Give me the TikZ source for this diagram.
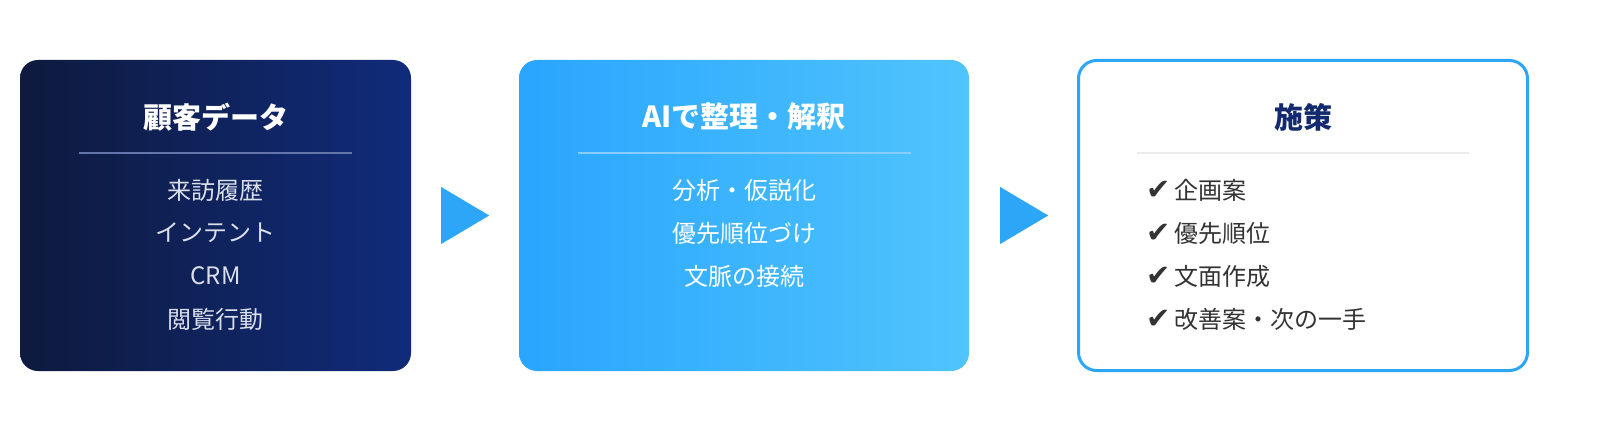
\documentclass[tikz,border=0pt]{standalone}
\usepackage{fontspec}
\setmainfont{Noto Sans CJK JP}
\newfontfamily\checkfont{DejaVu Sans}
\usetikzlibrary{positioning,calc}
\definecolor{navyL}{HTML}{0E1A3E}
\definecolor{navyR}{HTML}{102B7A}
\definecolor{skyL}{HTML}{29A5FE}
\definecolor{skyR}{HTML}{50C4FC}
\definecolor{accent}{HTML}{2DA6F7}
\definecolor{titlenavy}{HTML}{132A6E}
\begin{document}
\begin{tikzpicture}[x=1pt,y=1pt,
    box/.style={rounded corners=18pt,minimum height=311pt,inner sep=0pt},
    boxtitle/.style={font=\fontsize{29}{30}\selectfont\bfseries},
    boxitem/.style={font=\fontsize{24}{26}\selectfont}]
  \useasboundingbox (0,0) rectangle (1600,440);
  % the three stages
  \node[box,minimum width=391pt,left color=navyL,right color=navyR] (data) at (215.5,224.5) {};
  \node[box,minimum width=450pt,left color=skyL,right color=skyR] (ai) at (744,224.5) {};
  \node[box,minimum width=449pt,minimum height=310pt,draw=accent,line width=3pt,fill=white] (plan) at (1303,224.5) {};
  % titles and rules
  \node[boxtitle,text=white] (datat) at (215.5,323) {顧客データ};
  \node[boxtitle,text=white] (ait) at (744,323) {AIで整理・解釈};
  \node[boxtitle,text=titlenavy] (plant) at (1303,323) {施策};
  \draw[line width=1.5pt,color=white!35!navyR] (79,287) -- (352,287);
  \draw[line width=1.5pt,color=white!45!skyL] (578,287) -- (911,287);
  \draw[line width=1.5pt,color=black!8] (1137,287) -- (1469,287);
  % items
  \foreach \t [count=\i] in {来訪履歴,インテント,CRM,閲覧行動}
    \node[boxitem,text=white!85!navyR] (d\i) at (215.5,293-43*\i) {\t};
  \foreach \t [count=\i] in {分析・仮説化,優先順位づけ,文脈の接続}
    \node[boxitem,text=white] (a\i) at (744,293-43*\i) {\t};
  \foreach \t [count=\i] in {企画案,優先順位,文面作成,改善案・次の一手}
    \node[boxitem,text=black!80,anchor=west] (p\i) at (1143,293-43*\i) {{\checkfont\fontsize{29}{26}\selectfont ✔}\,\t};
  % arrows between stages
  \fill[accent] ($(data.east)+(30,28.5)$) -- ($(data.east)+(78,0)$) -- ($(data.east)+(30,-28.5)$) -- cycle;
  \fill[accent] ($(ai.east)+(31,28.5)$) -- ($(ai.east)+(79,0)$) -- ($(ai.east)+(31,-28.5)$) -- cycle;
\end{tikzpicture}
\end{document}
